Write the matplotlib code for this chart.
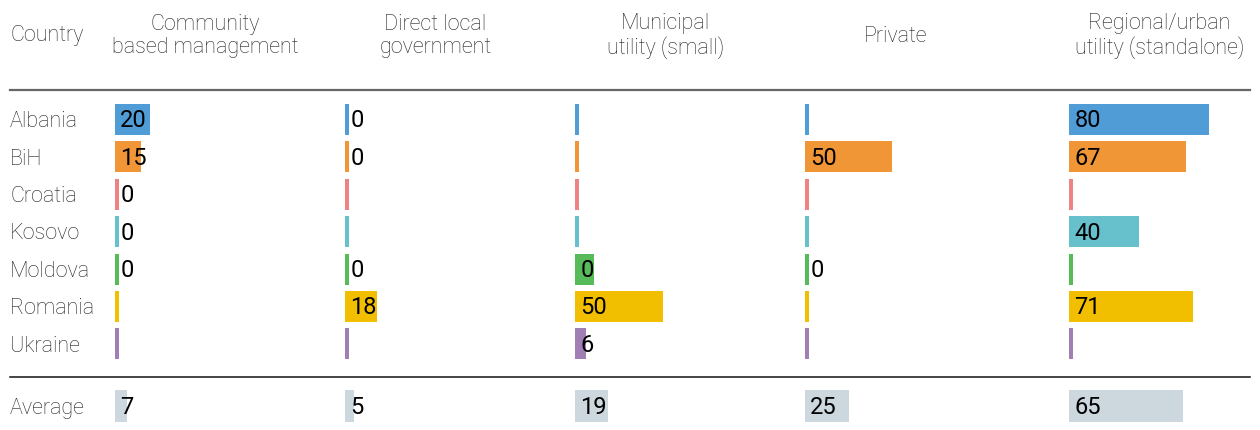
import matplotlib
matplotlib.use('Agg')
import matplotlib.pyplot as plt
from matplotlib.transforms import blended_transform_factory

plt.rcParams['font.family'] = ['Roboto', 'DejaVu Sans']

countries = ['Albania', 'BiH', 'Croatia', 'Kosovo', 'Moldova', 'Romania', 'Ukraine']
columns = ['Community\nbased management', 'Direct local\ngovernment',
           'Municipal\nutility (small)', 'Private',
           'Regional/urban\nutility (standalone)']

# bar lengths per column (None = no data), rows follow countries
community = [20, 15, 0, 0, 0, None, None]
direct_local = [0, 0, None, None, 0, 18, None]
municipal = [None, None, None, None, 11, 50, 6]
private = [None, 50, None, None, 0, None, None]
regional = [80, 67, None, 40, None, 71, None]

# text printed on the bars
community_lbl = ['20', '15', '0', '0', '0', '', '']
direct_local_lbl = ['0', '0', '', '', '0', '18', '']
municipal_lbl = ['', '', '', '', '0', '50', '6']
private_lbl = ['', '50', '', '', '0', '', '']
regional_lbl = ['80', '67', '', '40', '', '71', '']

average = [7, 5, 19, 25, 65]

series = [community, direct_local, municipal, private, regional]
labels = [community_lbl, direct_local_lbl, municipal_lbl, private_lbl, regional_lbl]

colors = ['#4f9cd6', '#f09637', '#ef8384', '#66c1cc', '#56bb58', '#f2be00', '#a17fb5']
avg_color = '#ccd7de'
txt_color = '#222222'
txt_size = 15.5
num_size = 17

W, H = 1260, 430
fig = plt.figure(figsize=(12.6, 4.3), dpi=100)

col_left = [115, 345, 575, 805, 1069]   # px
col_width = 175                          # px for 0..100
row_y = list(range(len(countries)))
avg_y = 7.66
min_w = 2.3

top_px, bot_px = 90, 430
y0 = (top_px - 119.5) / 37.4
y1 = (bot_px - 119.5) / 37.4

axes = []
for j, (vals, lbls) in enumerate(zip(series, labels)):
    ax = fig.add_axes([col_left[j] / W, 0, col_width / W, (bot_px - top_px) / H])
    ax.set_xlim(0, 100)
    ax.set_ylim(y1, y0)
    ax.axis('off')
    widths = [min_w if v is None or v < min_w else v for v in vals]
    ax.barh(row_y, widths, height=0.83, color=colors, left=0)
    for y, t in zip(row_y, lbls):
        if t:
            ax.text(3.0, y + 0.04, t, va='center', ha='left', fontsize=num_size,
                    color='black', clip_on=False)
    ax.barh([avg_y], [max(average[j], min_w)], height=0.83, color=avg_color)
    ax.text(3.0, avg_y + 0.04, str(average[j]), va='center', ha='left',
            fontsize=num_size, color='black')
    axes.append(ax)

    cx = (col_left[j] + col_width / 2 + 3) / W
    fig.text(cx, 1 - 36 / H, columns[j], ha='center', va='center',
             fontsize=txt_size, color=txt_color, fontweight='light', linespacing=1.12)

fig.text(10 / W, 1 - 36 / H, 'Country', ha='left', va='center',
         fontsize=txt_size, color=txt_color, fontweight='light')

tr = blended_transform_factory(fig.transFigure, axes[0].transData)
for y, c in zip(row_y, countries):
    axes[0].text(10 / W, y + 0.06, c, transform=tr, ha='left', va='center',
                 fontsize=txt_size, color=txt_color, fontweight='light', clip_on=False)
axes[0].text(10 / W, avg_y + 0.06, 'Average', transform=tr, ha='left', va='center',
             fontsize=txt_size, color=txt_color, fontweight='light', clip_on=False)

fig.add_artist(plt.Line2D([10 / W, 1250 / W], [1 - 90 / H] * 2, color='#666666', lw=1.6))
fig.add_artist(plt.Line2D([10 / W, 1250 / W], [1 - 377 / H] * 2, color='#111111', lw=1.1))

fig.savefig('out.png', dpi=100, facecolor='white')
